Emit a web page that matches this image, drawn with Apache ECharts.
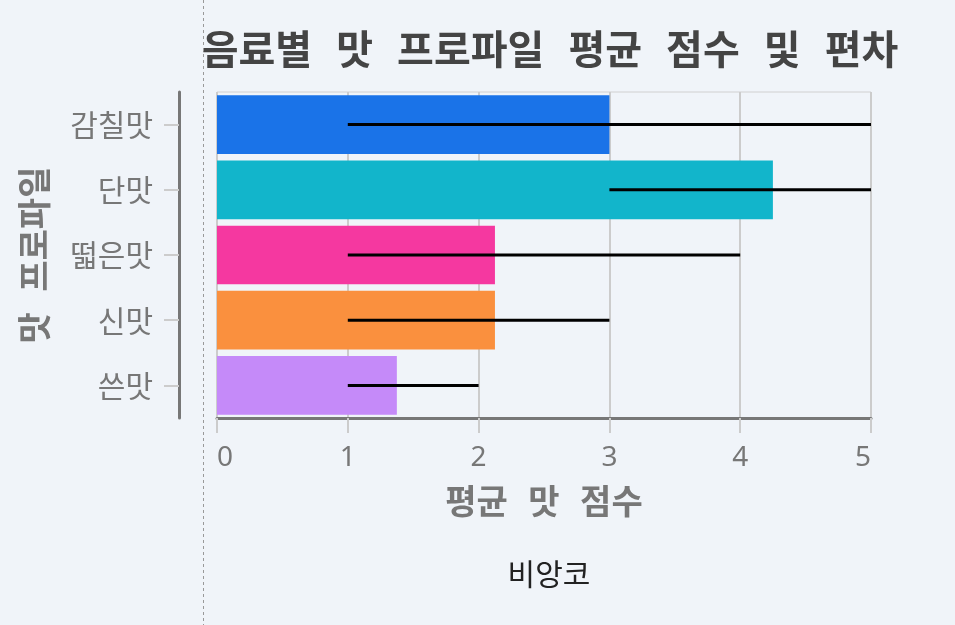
<!DOCTYPE html>
<html>
<head>
<meta charset="utf-8">
<script src="https://cdn.jsdelivr.net/npm/echarts@6/dist/echarts.min.js"></script>
<style>
  html, body { margin: 0; padding: 0; background: #f0f4f9; }
  #chart { width: 955px; height: 625px; }
</style>
</head>
<body>
<div id="chart"></div>
<script>
// 맛 프로파일 데이터
const categories = ['감칠맛', '단맛', '떫은맛', '신맛', '쓴맛']
const meanScores = [3.0, 4.25, 2.125, 2.125, 1.375]
const lowScores = [1, 3, 1, 1, 1]
const highScores = [5, 5, 4, 3, 2]
const barColors = ['#1a73e8', '#12b5cb', '#f538a0', '#fa903e', '#c58af9']
const xTicks = [0, 1, 2, 3, 4, 5]

const font = '"Noto Sans CJK KR", "Noto Sans", sans-serif'
// 띄어쓰기가 넓게 보이도록 공백은 고정폭 글꼴에서 가져옴
const wideFont = '"DejaVu Sans Mono", "Noto Sans CJK KR", sans-serif'

let chart = echarts.init(document.getElementById('chart'))

chart.setOption({
    animation: false,
    backgroundColor: '#f0f4f9',
    textStyle: { fontFamily: font },
    title: [
        {
            text: '음료별 맛 프로파일 평균 점수 및 편차',
            left: 545,
            textAlign: 'center',
            top: 29,
            textStyle: { fontSize: 40, fontWeight: 'bold', color: '#444444', fontFamily: wideFont }
        },
        {
            text: '비앙코',
            left: 544,
            textAlign: 'center',
            top: 554,
            textStyle: { fontSize: 30, fontWeight: 'normal', color: '#222222', fontFamily: font }
        }
    ],
    grid: {
        left: 217,
        right: 84,
        top: 92,
        bottom: 207,
        show: true,
        borderColor: '#d0d0d0',
        borderWidth: 1,
        backgroundColor: 'transparent'
    },
    xAxis: {
        type: 'value',
        min: xTicks[0],
        max: xTicks[xTicks.length - 1],
        interval: 1,
        name: '평균 맛 점수',
        nameLocation: 'middle',
        nameGap: 70,
        nameTextStyle: { fontSize: 34, fontWeight: 'bold', color: '#777777', fontFamily: wideFont },
        axisLine: { show: true, onZero: false, lineStyle: { color: '#777777', width: 3 } },
        axisTick: { show: true, length: 15, lineStyle: { color: '#cccccc', width: 2 } },
        axisLabel: {
            fontSize: 28, color: '#777777', margin: 26, fontFamily: '"Noto Sans", sans-serif',
            alignMinLabel: 'left', alignMaxLabel: 'right'
        },
        splitLine: { show: true, lineStyle: { color: '#cccccc', width: 2 } }
    },
    yAxis: {
        type: 'category',
        data: categories,
        inverse: true,
        offset: 38,
        name: '맛 프로파일',
        nameLocation: 'middle',
        nameGap: 124,
        nameRotate: 90,
        nameTextStyle: { fontSize: 34, fontWeight: 'bold', color: '#777777', fontFamily: wideFont },
        axisLine: { show: true, onZero: false, lineStyle: { color: '#777777', width: 3 } },
        axisTick: { show: true, alignWithLabel: true, length: 15, lineStyle: { color: '#cccccc', width: 2 } },
        axisLabel: { fontSize: 30, color: '#777777', margin: 26 },
        splitLine: { show: false }
    },
    graphic: [
        {
            type: 'line',
            shape: { x1: 203.5, y1: 0, x2: 203.5, y2: 625 },
            style: { stroke: '#999999', lineWidth: 1, lineDash: [3, 3] },
            z: 100
        }
    ],
    series: [
        {
            type: 'bar',
            data: meanScores.map((v, i) => ({ value: v, itemStyle: { color: barColors[i] } })),
            barCategoryGap: '10%'
        },
        {
            type: 'custom',
            data: categories.map((c, i) => [lowScores[i], highScores[i], i]),
            renderItem: function (params, api) {
                let start = api.coord([api.value(0), api.value(2)])
                let end = api.coord([api.value(1), api.value(2)])
                return {
                    type: 'line',
                    shape: { x1: start[0], y1: start[1], x2: end[0], y2: end[1] },
                    style: { stroke: '#000000', lineWidth: 3 }
                }
            },
            encode: { x: [0, 1], y: 2 },
            z: 10
        }
    ]
})
</script>
</body>
</html>
